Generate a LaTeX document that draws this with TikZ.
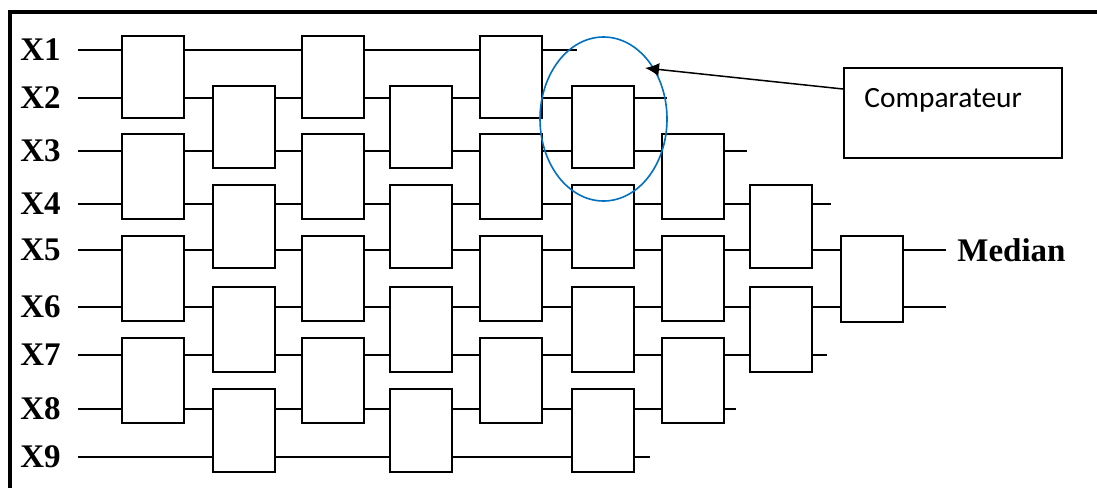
\documentclass[tikz,border=0pt]{standalone}
\usepackage{fontspec}
\setmainfont{Liberation Serif}
\newfontfamily\calibri{Carlito}
\usetikzlibrary{
    arrows.meta,
    shapes.geometric
}
\definecolor{ringblue}{RGB}{0,112,192}

\begin{document}
\begin{tikzpicture}[x=0.5pt, y=-0.5pt,
    wire/.style={line width=0.9pt},
    cmp/.style={draw, fill=white, line width=1.1pt, minimum width=31pt, inner sep=0pt, anchor=north west},
    inlabel/.style={font=\fontsize{16.5}{18}\selectfont\bfseries, anchor=west, inner sep=0pt}
]
    \useasboundingbox (0,0) rectangle (1097,488);
    \fill[white] (0,0) rectangle (1097,488);

    % Draw frame (top and left only)
    \draw[line width=2.2pt] (1097,12) -- (10,12) -- (10,488);

    % Inputs and wires of each row
    \foreach \i/\y/\e in {1/50/577, 2/98/667, 3/151/747, 4/204/831, 5/250/946, 6/307/946, 7/355/827, 8/409/736, 9/457/650} {
        \node[inlabel] (x\i) at (20,\y) {X\i};
        \coordinate (in\i) at (78,\y);
        \coordinate (out\i) at (\e,\y);
        \draw[wire] (in\i) -- (out\i);
    }

    % Comparators on odd columns (rows 1-2, 3-4, 5-6, 7-8)
    \foreach \c/\x in {1/121, 3/301, 5/479}
        \foreach \n/\t/\b in {a/35/117, b/133/218, c/235/320, d/337/422}
            \node[cmp, minimum height={(\b-\t)*0.5pt}] (c\c\n) at (\x,\t) {};

    % Comparators on even columns (rows 2-3, 4-5, 6-7, 8-9)
    \foreach \c/\x in {2/212, 4/389, 6/571}
        \foreach \n/\t/\b in {a/85/167, b/184/267, c/286/371, d/388/471}
            \node[cmp, minimum height={(\b-\t)*0.5pt}] (c\c\n) at (\x,\t) {};

    % Last stages
    \foreach \n/\t/\b in {a/133/218, b/235/320, c/337/422}
        \node[cmp, minimum height={(\b-\t)*0.5pt}] (c7\n) at (661,\t) {};
    \foreach \n/\t/\b in {a/184/267, b/286/371}
        \node[cmp, minimum height={(\b-\t)*0.5pt}] (c8\n) at (749,\t) {};
    \node[cmp, minimum height=43pt] (c9a) at (840,235) {};

    \node[font=\fontsize{16.5}{18}\selectfont\bfseries, anchor=west, inner sep=0pt] (median) at (957,250) {Median};

    % Comparator legend
    \node[ellipse, draw=ringblue, line width=0.8pt, minimum width=63.5pt, minimum height=82pt, inner sep=0pt] (ring) at (603.5,119) {};
    \node[draw, line width=0.8pt, minimum width=109pt, minimum height=45pt, anchor=north west, inner sep=0pt] (comp) at (843,67) {};
    \node[font=\calibri\fontsize{14.7}{16}\selectfont, anchor=base west, inner sep=0pt] (comptxt) at (864,107) {Comparateur};
    \coordinate (tip) at (645,68);
    \draw[line width=0.75pt, -{Latex[length=7pt,width=6.5pt]}] ([yshift=-11pt]comp.north west) -- (tip);
\end{tikzpicture}
\end{document}
